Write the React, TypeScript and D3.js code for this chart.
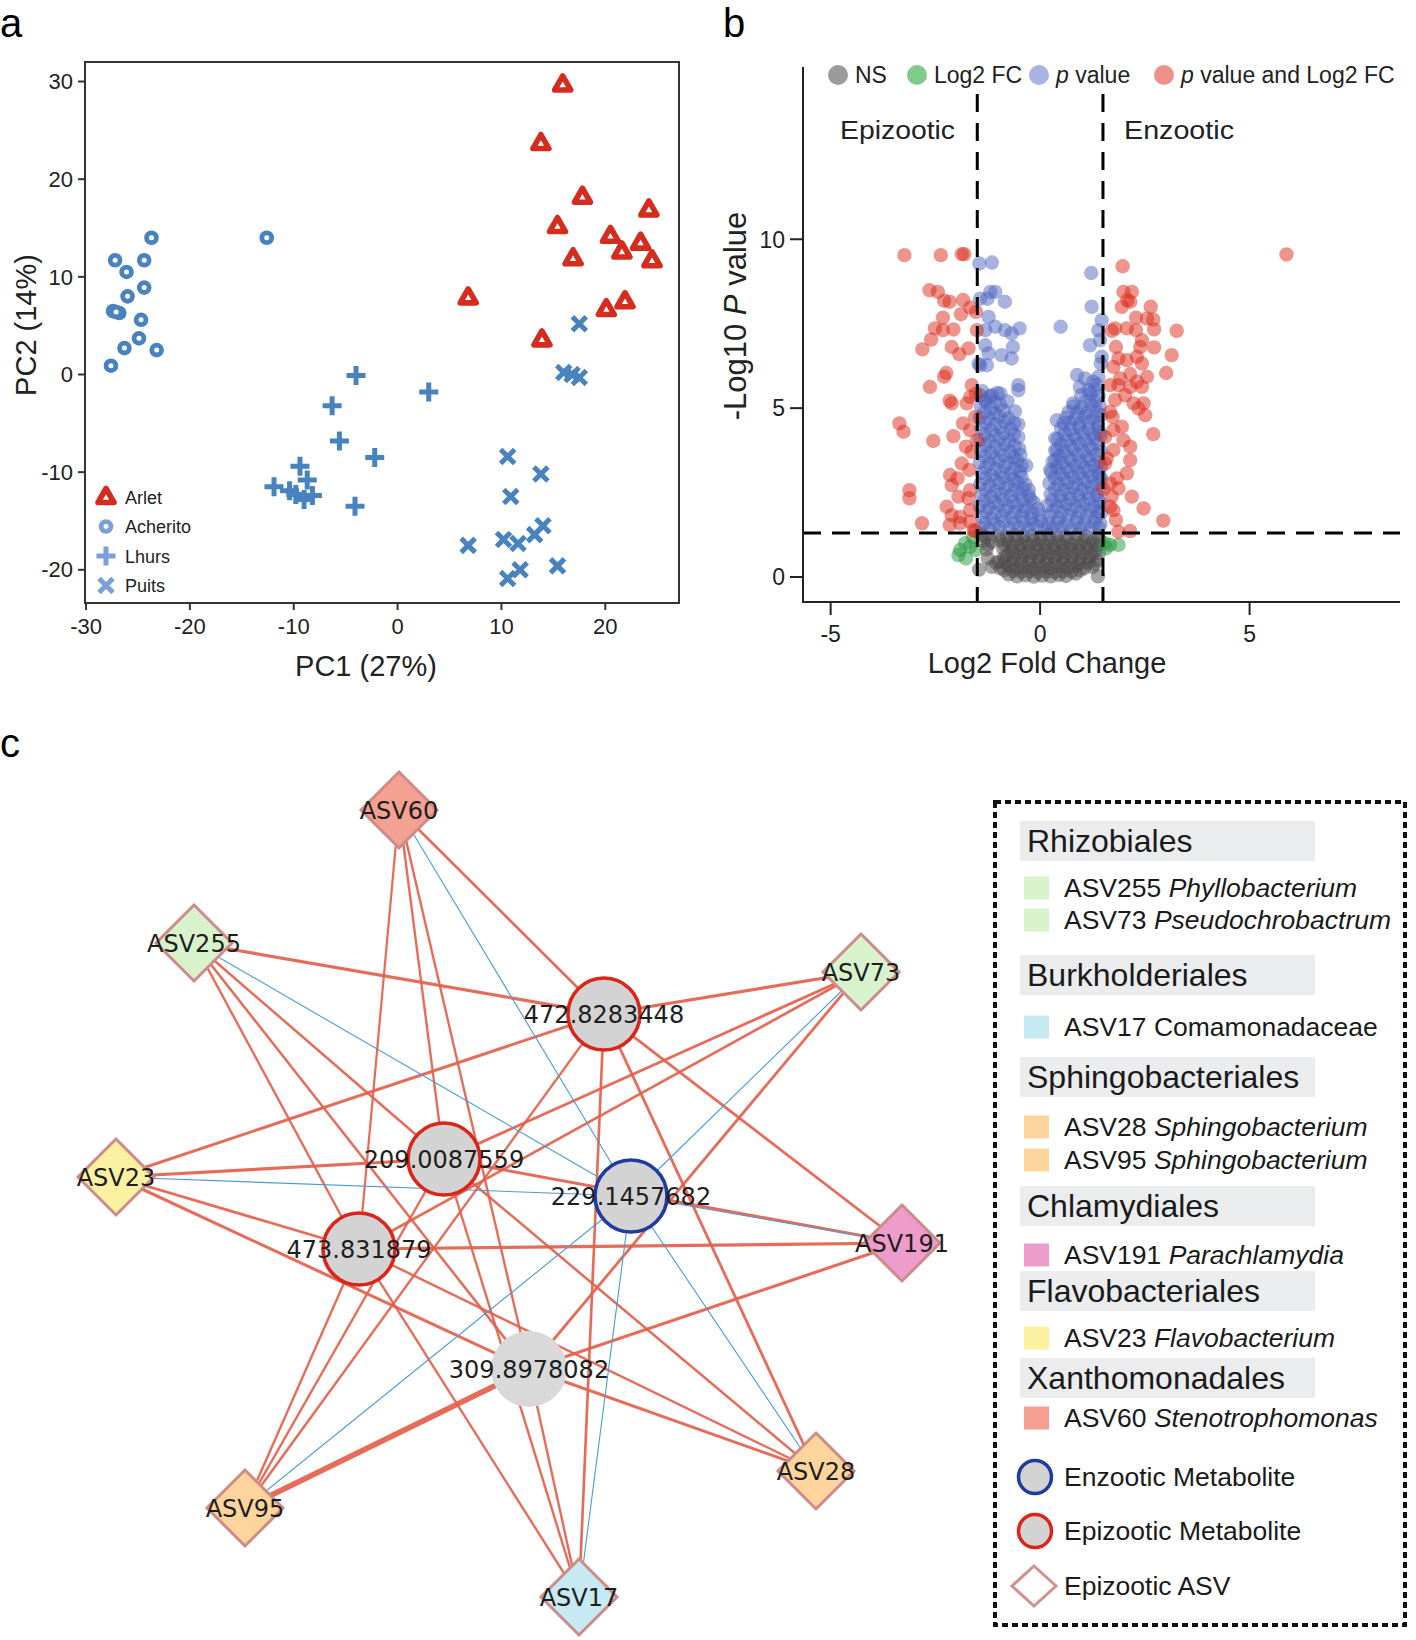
import React from "react";
import * as d3 from "d3";

const W = 1416;
const H = 1640;
const SANS = "'Liberation Sans', Arial, Helvetica, sans-serif";
const NETFONT = "'DejaVu Sans', 'Liberation Sans', sans-serif";

// ---------- panel a : PCA ----------
const pcaGroups = ["Arlet", "Acherito", "Lhurs", "Puits"];
const arlet: [number, number][] = [
  [15.9, 29.7], [13.8, 23.7], [17.8, 18.2], [24.2, 16.9], [15.4, 15.2], [20.5, 14.2], [23.4, 13.5],
  [21.6, 12.6], [16.9, 11.9], [24.5, 11.7], [6.8, 7.9], [21.9, 7.5], [20.1, 6.7], [13.9, 3.6],
];
const acherito: [number, number][] = [
  [-23.7, 14.0], [-12.6, 14.0], [-27.2, 11.7], [-24.4, 11.7], [-26.1, 10.5], [-24.4, 8.9], [-26.0, 8.0],
  [-27.4, 6.5], [-26.8, 6.3], [-27.1, 6.4], [-24.7, 5.6], [-24.9, 3.7], [-26.3, 2.7], [-23.2, 2.5], [-27.6, 0.9],
];
const lhurs: [number, number][] = [
  [-4.0, -0.1], [3.0, -1.8], [-6.3, -3.2], [-5.6, -6.8], [-2.2, -8.5], [-9.4, -9.4], [-8.7, -10.8],
  [-11.9, -11.5], [-10.4, -11.9], [-9.8, -12.3], [-8.2, -12.4], [-9.0, -12.8], [-4.1, -13.5],
];
const puits: [number, number][] = [
  [17.5, 5.2], [16.0, 0.2], [16.8, 0.0], [17.5, -0.3], [10.6, -8.4], [13.8, -10.2], [10.9, -12.5],
  [14.0, -15.5], [13.2, -16.4], [6.8, -17.5], [10.2, -16.9], [11.6, -17.3], [15.4, -19.6], [11.8, -20.0], [10.6, -20.9],
];
const pcaXTicks = [-30, -20, -10, 0, 10, 20];
const pcaYTicks = [-20, -10, 0, 10, 20, 30];

// ---------- panel b : volcano ----------
const volNS: [number, number][] = [
  [-0.55, 0.02], [-0.35, 0.05], [-0.15, 0.01], [0.05, 0.04], [0.25, 0.02], [0.45, 0.06], [0.62, 0.03], [-0.75, 0.08], [0.85, 0.1],
  [-1.15, 0.3], [-0.95, 0.26], [-0.75, 0.32], [-0.55, 0.27], [-0.35, 0.31], [-0.15, 0.25], [0.05, 0.3], [0.25, 0.27],
  [0.45, 0.33], [0.65, 0.28], [0.85, 0.32], [1.05, 0.26], [1.25, 0.3],
  [-1.25, 0.55], [-0.98, 0.45], [-0.85, 0.58], [-0.65, 0.53], [-0.45, 0.57], [-0.25, 0.51], [-0.05, 0.56], [0.15, 0.52],
  [0.35, 0.58], [0.55, 0.54], [0.75, 0.57], [0.95, 0.52], [1.15, 0.56], [1.35, 0.5],
  [-1.28, 0.82], [-0.88, 0.84], [-0.68, 0.79], [-0.48, 0.83], [-0.28, 0.77], [-0.08, 0.82], [0.12, 0.79], [0.32, 0.84],
  [0.52, 0.78], [0.72, 0.83], [0.92, 0.8], [1.12, 0.85], [1.32, 0.79],
  [-1.35, 1.08], [-1.15, 1.05], [-0.95, 1.1], [-0.75, 1.04], [-0.55, 1.09], [-0.35, 1.03], [-0.15, 1.08], [0.05, 1.05],
  [0.25, 1.1], [0.45, 1.04], [0.65, 1.09], [0.85, 1.03], [1.05, 1.08], [1.25, 1.04], [1.42, 1.1],
  [-1.46, 0.22], [1.38, 0.02], [-1.4, 1.25], [1.38, 1.22], [-0.6, 1.24], [0.2, 1.26], [0.9, 1.25], [-0.2, 1.22],
  [-0.45, 0.15], [-0.25, 0.17], [-0.05, 0.14], [0.15, 0.16], [0.35, 0.14], [0.55, 0.17], [-0.65, 0.18], [0.75, 0.16],
  [0.95, 0.2], [-0.85, 0.2], [-1.05, 0.42], [-0.85, 0.44], [-0.65, 0.4], [-0.45, 0.43], [-0.25, 0.41], [-0.05, 0.44],
  [0.15, 0.4], [0.35, 0.43], [0.55, 0.41], [0.75, 0.44], [0.95, 0.4], [1.15, 0.43], [1.3, 0.38],
  [-0.78, 0.66], [-0.58, 0.69], [-0.38, 0.67], [-0.18, 0.7], [0.02, 0.66], [0.22, 0.69], [0.42, 0.67], [0.62, 0.7],
  [0.82, 0.66], [1.02, 0.69], [1.22, 0.67], [1.4, 0.7],
  [-1.25, 0.95], [-0.85, 0.96], [-0.65, 0.92], [-0.45, 0.95], [-0.25, 0.93], [-0.05, 0.96], [0.15, 0.92], [0.35, 0.95],
  [0.55, 0.93], [0.75, 0.96], [0.95, 0.92], [1.15, 0.95], [1.35, 0.93],
  [-1.3, 1.2], [-1.0, 1.22], [-0.8, 1.2], [-0.4, 1.22], [0.0, 1.2], [0.4, 1.22], [0.6, 1.2], [1.1, 1.21],
];
const volFC: [number, number][] = [
  [-1.79, 1.0], [-1.91, 0.8], [-1.67, 0.9], [-1.95, 0.65], [-1.77, 0.55], [-1.53, 0.8], [-1.6, 1.18],
  [1.55, 1.0], [1.67, 0.95], [1.87, 0.95], [1.57, 0.85],
];
const volP: [number, number][] = [
  // left lobe, sparse top
  [-1.45, 9.28], [-1.15, 9.31], [-1.19, 8.44], [-1.07, 8.44], [-1.26, 8.24], [-0.84, 8.15], [-1.43, 8.24], [-1.23, 7.7],
  [-1.07, 7.41], [-1.31, 7.31], [-0.84, 7.31], [-0.68, 7.21], [-0.49, 7.36], [-1.31, 6.86], [-1.23, 6.62], [-0.92, 6.57],
  [-0.65, 6.81], [-0.68, 6.47], [-1.27, 6.27], [-1.43, 6.27], [-1.47, 6.31], [-0.52, 5.68], [-0.52, 5.53], [-0.95, 5.43],
  [-1.15, 5.38], [-1.31, 5.24], [-1.43, 5.38],
  // left lobe, dense
  [-1.42, 1.45], [-1.21, 1.41], [-0.97, 1.48], [-0.74, 1.43], [-0.51, 1.46], [-0.29, 1.42], [-0.08, 1.5], [0.12, 1.44],
  [-1.38, 1.78], [-1.15, 1.72], [-0.92, 1.8], [-0.68, 1.75], [-0.44, 1.79], [-0.21, 1.73], [-0.02, 1.85],
  [-1.44, 2.1], [-1.22, 2.05], [-1.0, 2.14], [-0.77, 2.08], [-0.55, 2.12], [-0.33, 2.06], [-0.15, 2.2],
  [-1.4, 2.42], [-1.17, 2.38], [-0.94, 2.45], [-0.71, 2.4], [-0.49, 2.47], [-0.27, 2.41],
  [-1.43, 2.75], [-1.2, 2.7], [-0.98, 2.78], [-0.76, 2.72], [-0.54, 2.8], [-0.35, 2.74],
  [-1.39, 3.08], [-1.16, 3.02], [-0.93, 3.1], [-0.7, 3.05], [-0.48, 3.12], [-0.33, 3.3],
  [-1.44, 3.4], [-1.21, 3.36], [-0.99, 3.44], [-0.76, 3.38], [-0.55, 3.46],
  [-1.41, 3.73], [-1.18, 3.68], [-0.95, 3.76], [-0.72, 3.7], [-0.5, 3.8],
  [-1.43, 4.06], [-1.2, 4.02], [-0.97, 4.1], [-0.74, 4.04], [-0.52, 4.15],
  [-1.4, 4.4], [-1.17, 4.35], [-0.94, 4.43], [-0.7, 4.38], [-0.52, 4.52],
  [-1.44, 4.72], [-1.22, 4.68], [-0.99, 4.76], [-0.76, 4.7], [-0.6, 4.9],
  [-1.41, 5.05], [-1.18, 5.0], [-0.95, 5.1], [-0.78, 5.2], [-1.2, 5.35], [-1.02, 5.45],
  [-1.32, 1.6], [-1.09, 1.57], [-0.86, 1.63], [-0.62, 1.59], [-0.4, 1.62], [-0.18, 1.58], [0.02, 1.66],
  [-1.3, 1.94], [-1.07, 1.9], [-0.84, 1.97], [-0.61, 1.92], [-0.39, 1.95], [-0.2, 1.9], [-0.05, 2.02],
  [-1.33, 2.26], [-1.1, 2.22], [-0.87, 2.29], [-0.64, 2.24], [-0.42, 2.28], [-0.23, 2.3],
  [-1.3, 2.58], [-1.07, 2.55], [-0.84, 2.62], [-0.61, 2.57], [-0.41, 2.62], [-0.27, 2.58],
  [-1.32, 2.92], [-1.09, 2.88], [-0.86, 2.95], [-0.63, 2.9], [-0.44, 2.96],
  [-1.3, 3.24], [-1.07, 3.2], [-0.84, 3.27], [-0.61, 3.22], [-0.44, 3.3],
  [-1.32, 3.57], [-1.09, 3.52], [-0.86, 3.6], [-0.63, 3.55], [-0.47, 3.62],
  [-1.3, 3.9], [-1.07, 3.86], [-0.84, 3.93], [-0.61, 3.88],
  [-1.32, 4.23], [-1.09, 4.19], [-0.86, 4.26], [-0.63, 4.22],
  [-1.3, 4.56], [-1.07, 4.52], [-0.84, 4.6], [-0.62, 4.55],
  [-1.32, 4.88], [-1.09, 4.85], [-0.87, 4.93], [-1.3, 5.2], [-1.08, 5.18], [-1.38, 5.5],
  // right lobe, sparse top
  [1.22, 9.0], [1.23, 8.0], [0.49, 7.41], [1.47, 7.6], [1.39, 7.31], [1.43, 7.01], [1.19, 6.86], [1.47, 6.52],
  [1.45, 6.32], [0.88, 5.98], [1.07, 5.88], [1.27, 5.78], [1.39, 5.93], [1.15, 5.53], [0.95, 5.63], [0.79, 5.14],
  [0.68, 4.89], [0.4, 4.64], [0.56, 4.55], [0.36, 4.1], [0.4, 3.76], [0.36, 3.46], [0.24, 3.17],
  // right lobe, dense
  [0.3, 1.42], [0.52, 1.48], [0.74, 1.41], [0.96, 1.46], [1.18, 1.43], [1.4, 1.47],
  [0.22, 1.8], [0.45, 1.74], [0.67, 1.82], [0.89, 1.76], [1.11, 1.81], [1.33, 1.75], [1.45, 1.9],
  [0.18, 2.12], [0.4, 2.08], [0.62, 2.15], [0.84, 2.1], [1.06, 2.16], [1.28, 2.09], [1.44, 2.2],
  [0.25, 2.45], [0.47, 2.4], [0.69, 2.47], [0.91, 2.42], [1.13, 2.48], [1.35, 2.43],
  [0.22, 2.78], [0.44, 2.74], [0.66, 2.8], [0.88, 2.75], [1.1, 2.82], [1.32, 2.76], [1.46, 2.9],
  [0.27, 3.1], [0.49, 3.06], [0.71, 3.13], [0.93, 3.08], [1.15, 3.14], [1.37, 3.09],
  [0.3, 3.42], [0.52, 3.38], [0.74, 3.45], [0.96, 3.4], [1.18, 3.47], [1.4, 3.41],
  [0.36, 3.75], [0.58, 3.7], [0.8, 3.78], [1.02, 3.72], [1.24, 3.8], [1.44, 3.74],
  [0.42, 4.08], [0.64, 4.03], [0.86, 4.1], [1.08, 4.05], [1.3, 4.12], [1.45, 4.2],
  [0.5, 4.4], [0.72, 4.36], [0.94, 4.44], [1.16, 4.38], [1.38, 4.45],
  [0.62, 4.72], [0.84, 4.68], [1.06, 4.76], [1.28, 4.7], [1.45, 4.8],
  [0.8, 5.05], [1.0, 5.02], [1.22, 5.1], [1.42, 5.05], [0.98, 5.38], [1.2, 5.42], [1.4, 5.35], [1.35, 5.7],
  [0.2, 1.58], [0.41, 1.6], [0.63, 1.56], [0.85, 1.62], [1.07, 1.58], [1.29, 1.61], [1.44, 1.58],
  [0.3, 1.95], [0.52, 1.92], [0.74, 1.98], [0.96, 1.93], [1.18, 1.97], [1.38, 1.93],
  [0.29, 2.28], [0.51, 2.25], [0.73, 2.31], [0.95, 2.26], [1.17, 2.32], [1.39, 2.27],
  [0.35, 2.61], [0.57, 2.58], [0.79, 2.64], [1.01, 2.59], [1.23, 2.65], [1.42, 2.6],
  [0.35, 2.94], [0.57, 2.9], [0.79, 2.96], [1.01, 2.92], [1.23, 2.98], [1.42, 3.0],
  [0.4, 3.26], [0.62, 3.22], [0.84, 3.29], [1.06, 3.24], [1.28, 3.3], [1.45, 3.26],
  [0.46, 3.58], [0.68, 3.55], [0.9, 3.61], [1.12, 3.56], [1.34, 3.62],
  [0.5, 3.92], [0.72, 3.88], [0.94, 3.95], [1.16, 3.9], [1.38, 3.95],
  [0.58, 4.24], [0.8, 4.2], [1.02, 4.27], [1.24, 4.22], [1.42, 4.3],
  [0.72, 4.56], [0.94, 4.52], [1.16, 4.6], [1.38, 4.56],
  [0.9, 4.88], [1.12, 4.86], [1.34, 4.92], [1.1, 5.22], [1.32, 5.2], [1.3, 5.55],
];
const volBoth: [number, number][] = [
  [-3.24, 9.53], [-2.37, 9.53], [-1.87, 9.56], [-1.81, 9.56], [-2.64, 8.49], [-2.44, 8.44], [-2.29, 8.18], [-2.16, 8.15],
  [-1.84, 8.2], [-1.67, 7.98], [-1.89, 7.78], [-1.53, 7.85], [-2.32, 7.68], [-2.51, 7.36], [-2.32, 7.31], [-2.07, 7.33],
  [-2.6, 7.03], [-2.81, 6.74], [-2.11, 6.81], [-1.93, 6.6], [-1.71, 6.77], [-1.51, 7.31], [-2.24, 6.04], [-2.29, 5.93],
  [-2.63, 5.63], [-2.16, 5.22], [-2.11, 5.14], [-1.63, 5.68], [-1.67, 5.33], [-1.75, 5.14], [-1.53, 5.43], [-3.36, 4.55],
  [-3.26, 4.3], [-2.55, 4.03], [-2.07, 4.17], [-1.84, 4.55], [-1.67, 4.35], [-1.77, 3.86], [-1.63, 3.71], [-1.87, 3.36],
  [-2.15, 3.02], [-1.97, 2.92], [-1.69, 3.17], [-2.11, 2.72], [-1.67, 2.57], [-1.95, 2.38], [-1.71, 2.33], [-3.12, 2.57],
  [-3.12, 2.33], [-2.23, 2.08], [-2.11, 1.83], [-1.91, 1.78], [-1.67, 1.98], [-2.82, 1.59], [-2.16, 1.54], [-1.91, 1.59],
  [-1.67, 1.64], [-1.55, 4.74], [-1.51, 4.05], [-1.59, 1.39], [-1.55, 1.35],
  [1.97, 9.2], [1.99, 8.44], [2.19, 8.44], [2.08, 8.2], [1.95, 8.0], [2.15, 8.15], [2.29, 7.68], [2.64, 8.0],
  [2.55, 7.65], [2.7, 7.62], [2.72, 7.33], [3.26, 7.29], [2.29, 7.31], [1.79, 7.36], [1.71, 7.29], [2.07, 7.36],
  [2.43, 7.01], [2.39, 6.81], [2.72, 6.8], [3.14, 6.57], [1.81, 6.81], [1.87, 6.47], [1.75, 6.22], [2.07, 6.42],
  [2.31, 6.52], [2.43, 6.32], [3.01, 6.04], [2.55, 5.93], [2.15, 6.01], [1.91, 5.88], [1.67, 5.68], [1.87, 5.68],
  [2.15, 5.63], [2.31, 5.78], [2.43, 5.63], [2.03, 5.38], [1.79, 5.24], [2.23, 5.14], [2.47, 5.14], [2.51, 4.79],
  [2.35, 4.99], [1.67, 4.89], [1.73, 4.74], [1.95, 4.45], [1.75, 4.35], [2.7, 4.23], [1.55, 4.15], [1.99, 4.05],
  [2.15, 3.86], [1.75, 3.76], [1.59, 3.51], [2.15, 3.46], [2.07, 3.07], [1.83, 2.92], [1.67, 2.77], [1.87, 2.62],
  [1.71, 2.38], [2.19, 2.38], [2.47, 2.03], [1.75, 1.98], [1.81, 1.69], [2.94, 1.67], [1.87, 1.34], [2.15, 1.36],
  [1.67, 2.08], [1.55, 3.36], [1.51, 2.6], [5.88, 9.55],
];
const fcCutoff = 1.5;
const pCutoff = 1.3;
const volXTicks = [-5, 0, 5];
const volYTicks = [0, 5, 10];

// ---------- panel c : network ----------
const asvIds = ["ASV60", "ASV255", "ASV73", "ASV23", "ASV191", "ASV95", "ASV17", "ASV28"];
const asvOrder = ["Xanthomonadales", "Rhizobiales", "Rhizobiales", "Flavobacteriales", "Chlamydiales", "Sphingobacteriales", "Burkholderiales", "Sphingobacteriales"];
const asvLayout: [number, number][] = [[289, 10], [84, 143], [751, 172], [6, 377], [792, 443], [135, 708], [469, 797], [706, 671]];
const metIds = ["472.8283448", "209.0087559", "229.1457682", "473.831879", "309.8978082"];
const metGroup = ["Epizootic", "Epizootic", "Enzootic", "Epizootic", "none"];
const metLayout: [number, number][] = [[494, 214], [334, 359], [521, 396], [249, 449], [419, 569]];
// correlation ASV (rows) x metabolite (cols)
const rho = [
  [0.74, 0.72, -0.7, 0.71, 0.72],
  [0.78, 0.73, -0.7, 0.72, 0.73],
  [0.78, 0.75, -0.7, 0.74, 0.75],
  [0.76, 0.78, -0.7, 0.75, 0.77],
  [0.75, 0.76, -0.7, 0.78, 0.77],
  [0.72, 0.72, -0.7, 0.72, 0.95],
  [0.74, 0.72, -0.7, 0.72, 0.72],
  [0.75, 0.73, -0.7, 0.72, 0.76],
];
const legendOrders = ["Rhizobiales", "Burkholderiales", "Sphingobacteriales", "Chlamydiales", "Flavobacteriales", "Xanthomonadales"];
const legendTaxa: [string, string, string, boolean][] = [
  ["Rhizobiales", "ASV255", "Phyllobacterium", true],
  ["Rhizobiales", "ASV73", "Pseudochrobactrum", true],
  ["Burkholderiales", "ASV17", "Comamonadaceae", false],
  ["Sphingobacteriales", "ASV28", "Sphingobacterium", true],
  ["Sphingobacteriales", "ASV95", "Sphingobacterium", true],
  ["Chlamydiales", "ASV191", "Parachlamydia", true],
  ["Flavobacteriales", "ASV23", "Flavobacterium", true],
  ["Xanthomonadales", "ASV60", "Stenotrophomonas", true],
];

const orderColor: Record<string, string> = {
  Rhizobiales: "#d8f3cb",
  Burkholderiales: "#c7eaf2",
  Sphingobacteriales: "#fdd59c",
  Chlamydiales: "#ee9ccb",
  Flavobacteriales: "#fbf1a0",
  Xanthomonadales: "#f4a194",
};

const RED = "#d42d1f";
const BLUE = "#4883bf";
const LEGBLUE = "#7d9fd8";

function Marker({ kind, x, y, color }: { kind: string; x: number; y: number; color: string }) {
  if (kind === "Arlet")
    return <path d={`M${x},${y - 8.5}L${x + 8},${y + 5.5}L${x - 8},${y + 5.5}Z`} fill="#fff" stroke={color} strokeWidth={5.6} strokeLinejoin="round" />;
  if (kind === "Acherito") return <circle cx={x} cy={y} r={4.9} fill="#fff" stroke={color} strokeWidth={4.8} />;
  if (kind === "Lhurs")
    return <path d={`M${x - 9.5},${y}H${x + 9.5}M${x},${y - 9.5}V${y + 9.5}`} stroke={color} strokeWidth={5} />;
  return <path d={`M${x - 7},${y - 7}L${x + 7},${y + 7}M${x - 7},${y + 7}L${x + 7},${y - 7}`} stroke={color} strokeWidth={5} />;
}

function PanelA() {
  const x = d3.scaleLinear().domain([-30.1, 27.1]).range([85, 679]);
  const y = d3.scaleLinear().domain([-23.4, 32.0]).range([603, 62]);
  const series: [string, [number, number][]][] = [["Acherito", acherito], ["Lhurs", lhurs], ["Puits", puits], ["Arlet", arlet]];
  return (
    <g fontFamily={SANS}>
      <text x={0} y={37} fontSize={40}>a</text>
      {series.map(([k, pts]) =>
        pts.map((p, i) => <Marker key={k + i} kind={k} x={x(p[0])} y={y(p[1])} color={k === "Arlet" ? RED : BLUE} />)
      )}
      <rect x={85} y={62} width={594} height={541} fill="none" stroke="#333" strokeWidth={2} />
      {pcaYTicks.map((t) => (
        <g key={"y" + t}>
          <line x1={78} x2={85} y1={y(t)} y2={y(t)} stroke="#333" strokeWidth={2} />
          <text x={73} y={y(t)} dy="0.35em" textAnchor="end" fontSize={22} fill="#222">{t}</text>
        </g>
      ))}
      {pcaXTicks.map((t) => (
        <g key={"x" + t}>
          <line x1={x(t)} x2={x(t)} y1={603} y2={610} stroke="#333" strokeWidth={2} />
          <text x={x(t)} y={634} textAnchor="middle" fontSize={22} fill="#222">{t}</text>
        </g>
      ))}
      <text x={366} y={676} textAnchor="middle" fontSize={29} fill="#222">PC1 (27%)</text>
      <text transform="translate(36,325) rotate(-90)" textAnchor="middle" fontSize={29} fill="#222">PC2 (14%)</text>
      {pcaGroups.map((g, i) => (
        <g key={g}>
          <Marker kind={g} x={106} y={497 + i * 29.5} color={g === "Arlet" ? RED : LEGBLUE} />
          <text x={125} y={497 + i * 29.5 + 6.5} fontSize={18} fill="#222">{g}</text>
        </g>
      ))}
    </g>
  );
}

function PanelB() {
  const x = d3.scaleLinear().domain([-5.66, 8.59]).range([803, 1400]);
  const y = d3.scaleLinear().domain([-0.74, 15.1]).range([602, 67]);
  const groups: [string, [number, number][], string][] = [
    ["ns", volNS, "#4d4b4b"],
    ["fc", volFC, "#23963a"],
    ["p", volP, "#4f66c0"],
    ["both", volBoth, "#dc2a1a"],
  ];
  const dash = "18 11";
  const legend: [string, string, string, string][] = [
    ["#9c9b9b", "", "NS", "838"],
    ["#80cb8c", "", "Log2 FC", "917"],
    ["#a8b3e0", "p", " value", "1039"],
    ["#ee9189", "p", " value and Log2 FC", "1164"],
  ];
  return (
    <g fontFamily={SANS}>
      <text x={723} y={37} fontSize={40}>b</text>
      {groups.map(([k, pts, c]) => (
        <g key={k} fill={c} fillOpacity={0.5}>
          {pts.map((p, i) => <circle key={i} cx={x(p[0])} cy={y(p[1])} r={7.2} />)}
        </g>
      ))}
      <g stroke="#000" strokeWidth={3} strokeDasharray={dash} fill="none">
        <line x1={x(-fcCutoff)} x2={x(-fcCutoff)} y1={94} y2={602} />
        <line x1={x(fcCutoff)} x2={x(fcCutoff)} y1={94} y2={602} />
        <line x1={803} x2={1400} y1={y(pCutoff)} y2={y(pCutoff)} />
      </g>
      <path d="M803,67V602H1400" fill="none" stroke="#222" strokeWidth={2} />
      {volYTicks.map((t) => (
        <g key={"y" + t}>
          <line x1={790} x2={803} y1={y(t)} y2={y(t)} stroke="#222" strokeWidth={2} />
          <text x={785} y={y(t)} dy="0.36em" textAnchor="end" fontSize={23} fill="#222">{t}</text>
        </g>
      ))}
      {volXTicks.map((t) => (
        <g key={"x" + t}>
          <line x1={x(t)} x2={x(t)} y1={602} y2={615} stroke="#222" strokeWidth={2} />
          <text x={x(t)} y={642} textAnchor="middle" fontSize={23} fill="#222">{t}</text>
        </g>
      ))}
      <text x={1047} y={673} textAnchor="middle" fontSize={29} fill="#222">Log2 Fold Change</text>
      <text transform="translate(746,316) rotate(-90)" textAnchor="middle" fontSize={31} fill="#222">
        -Log10 <tspan fontStyle="italic">P</tspan> value
      </text>
      <text x={840} y={139} fontSize={25} fill="#222" textLength={115} lengthAdjust="spacingAndGlyphs">Epizootic</text>
      <text x={1124} y={139} fontSize={25} fill="#222" textLength={110} lengthAdjust="spacingAndGlyphs">Enzootic</text>
      {legend.map(([c, it, rest, cx]) => (
        <g key={rest}>
          <circle cx={+cx} cy={75} r={10} fill={c} />
          <text x={+cx + 17} y={83} fontSize={23} fill="#222">
            {it && <tspan fontStyle="italic">{it}</tspan>}
            {rest}
          </text>
        </g>
      ))}
    </g>
  );
}

function PanelC() {
  const nx = d3.scaleLinear().domain([0, 800]).range([110, 910]);
  const ny = d3.scaleLinear().domain([0, 800]).range([800, 1600]);
  const w = d3.scaleLinear().domain([0.7, 0.95]).range([2.1, 5.6]);
  const diamond = (cx: number, cy: number, h: number) => `M${cx},${cy - h}L${cx + h},${cy}L${cx},${cy + h}L${cx - h},${cy}Z`;
  const edges: { a: number; m: number; r: number }[] = [];
  asvIds.forEach((_, a) => metIds.forEach((__, m) => edges.push({ a, m, r: rho[a][m] })));
  const headerY = [841, 975, 1077, 1206, 1291, 1378];
  const itemY = [888, 920, 1027, 1127, 1160, 1255, 1338, 1418];
  const strokeOf = (g: string) => (g === "Epizootic" ? "#da2519" : g === "Enzootic" ? "#1e3b9e" : "none");
  return (
    <g>
      <text x={0} y={757} fontSize={40} fontFamily={SANS}>c</text>
      {edges
        .slice()
        .sort((p, q) => (p.r < 0 ? 1 : 0) - (q.r < 0 ? 1 : 0))
        .map((e, i) => (
          <line
            key={i}
            x1={nx(asvLayout[e.a][0])}
            y1={ny(asvLayout[e.a][1])}
            x2={nx(metLayout[e.m][0])}
            y2={ny(metLayout[e.m][1])}
            stroke={e.r < 0 ? "#4a9bd4" : "#e4604b"}
            strokeOpacity={e.r < 0 ? 1 : 0.92}
            strokeWidth={e.r < 0 ? 1.1 : w(e.r)}
          />
        ))}
      {metIds.map((id, i) => (
        <circle key={id} cx={nx(metLayout[i][0])} cy={ny(metLayout[i][1])} r={metGroup[i] === "none" ? 38 : 36}
          fill={metGroup[i] === "none" ? "#d9d9d9" : "#d4d3d3"} stroke={strokeOf(metGroup[i])} strokeWidth={3.6} />
      ))}
      {asvIds.map((id, i) => (
        <path key={id} d={diamond(nx(asvLayout[i][0]), ny(asvLayout[i][1]), 38)} fill={orderColor[asvOrder[i]]}
          stroke="#cd8b89" strokeWidth={3} />
      ))}
      <g fontFamily={NETFONT} fontSize={24} fill="#1e1e1e" textAnchor="middle">
        {metIds.map((id, i) => (
          <text key={id} x={nx(metLayout[i][0])} y={ny(metLayout[i][1]) + 8.5}>{id}</text>
        ))}
        {asvIds.map((id, i) => (
          <text key={id} x={nx(asvLayout[i][0])} y={ny(asvLayout[i][1]) + 8.5}>{id}</text>
        ))}
      </g>
      {/* legend */}
      <g fontFamily={SANS} fill="#1a1a1a">
        <rect x={995} y={802} width={410} height={823} fill="none" stroke="#111" strokeWidth={4} strokeDasharray="6 4" />
        {legendOrders.map((o, i) => (
          <g key={o}>
            <rect x={1020} y={headerY[i] - 20} width={295} height={40} fill="#ebeced" />
            <text x={1027} y={headerY[i] + 11} fontSize={32}>{o}</text>
          </g>
        ))}
        {legendTaxa.map(([o, asv, name, it], i) => (
          <g key={asv}>
            <rect x={1024} y={itemY[i] - 11.5} width={25} height={23} fill={orderColor[o]} />
            <text x={1064} y={itemY[i] + 9} fontSize={26.5}>
              {asv} <tspan fontStyle={it ? "italic" : "normal"}>{name}</tspan>
            </text>
          </g>
        ))}
        <circle cx={1035} cy={1477} r={16.5} fill="#d4d3d3" stroke="#1e3b9e" strokeWidth={3.5} />
        <text x={1064} y={1486} fontSize={26.5}>Enzootic Metabolite</text>
        <circle cx={1035} cy={1531} r={16.5} fill="#d4d3d3" stroke="#da2519" strokeWidth={3.5} />
        <text x={1064} y={1540} fontSize={26.5}>Epizootic Metabolite</text>
        <path d="M1034,1566L1056,1586L1034,1606L1012,1586Z" fill="#fff" stroke="#d4908c" strokeWidth={3} />
        <text x={1064} y={1595} fontSize={26.5}>Epizootic ASV</text>
      </g>
    </g>
  );
}

export default function App() {
  return (
    <div style={{ position: "absolute", left: 0, top: 0 }}>
      <svg width={W} height={H} style={{ display: "block", background: "#fff" }}>
        <PanelA />
        <PanelB />
        <PanelC />
      </svg>
    </div>
  );
}
